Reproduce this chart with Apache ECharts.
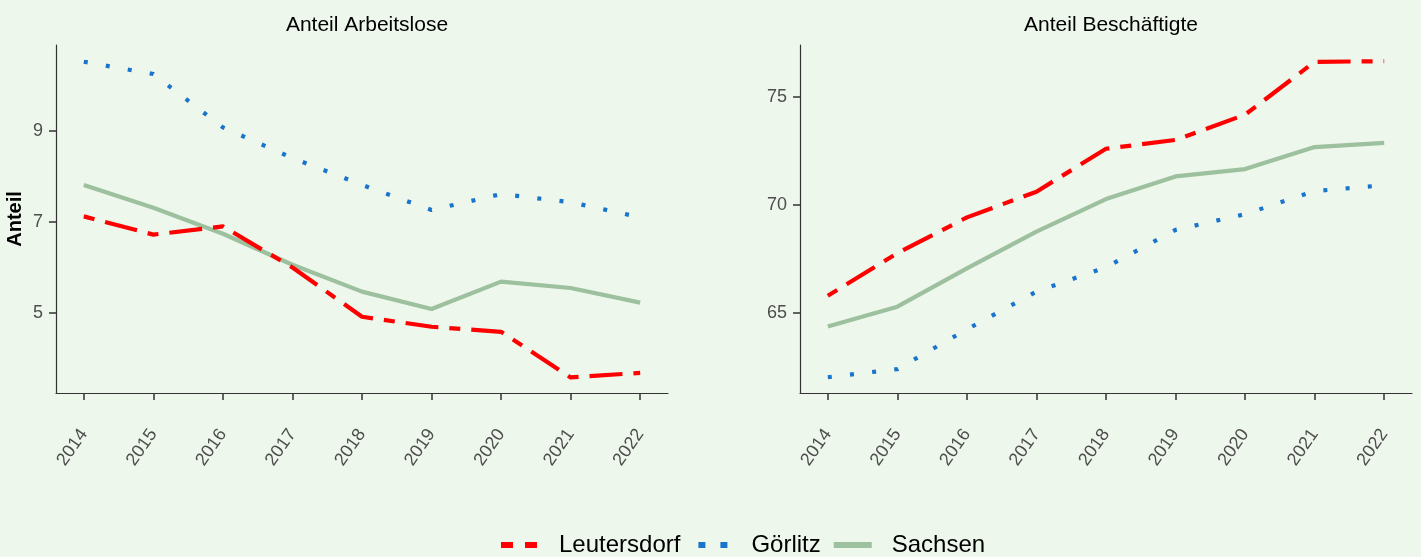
<!DOCTYPE html>
<html>
<head>
<meta charset="utf-8">
<script src="https://cdn.jsdelivr.net/npm/echarts@6/dist/echarts.min.js"></script>
<style>
  html, body { margin: 0; padding: 0; background: #eef7ec; }
  #chart { width: 1421px; height: 557px; }
</style>
</head>
<body>
<div id="chart"></div>
<script>
const years = [2014, 2015, 2016, 2017, 2018, 2019, 2020, 2021, 2022]
const seriesNames = ['Leutersdorf', 'Görlitz', 'Sachsen']

// Anteil Arbeitslose
const alLeutersdorf = [7.12, 6.72, 6.90, 6.00, 4.92, 4.70, 4.59, 3.59, 3.69]
const alGoerlitz = [10.51, 10.24, 9.07, 8.40, 7.81, 7.26, 7.61, 7.43, 7.10]
const alSachsen = [7.81, 7.31, 6.74, 6.06, 5.47, 5.09, 5.69, 5.55, 5.23]

// Anteil Beschäftigte
const bsLeutersdorf = [65.80, 67.77, 69.43, 70.62, 72.61, 73.02, 74.19, 76.64, 76.67]
const bsGoerlitz = [62.02, 62.40, 64.24, 65.99, 67.12, 68.85, 69.58, 70.65, 70.92]
const bsSachsen = [64.37, 65.29, 67.07, 68.77, 70.28, 71.33, 71.67, 72.69, 72.88]

const ticksLeft = [5, 7, 9]
const ticksRight = [65, 70, 75]

const colors = ['#ff0000', '#1874cd', '#9dc09e']
const dashes = [[11, 11, 33, 11], [4, 18.3], 'solid']
const legendDashes = [[12, 12], [7, 15], 'solid']
const legendOffsets = [0, -5, 0]

const pairs = vals => years.map((y, i) => [y, vals[i]])
const font = 'Liberation Sans'

function xAxis(gridIndex) {
  return {
    type: 'value',
    gridIndex,
    min: 2013.6,
    max: 2022.4,
    splitLine: { show: false },
    axisLine: { show: true, lineStyle: { color: '#333', width: 1.2 } },
    axisTick: { show: true, length: 7, customValues: years, lineStyle: { color: '#333', width: 1.5 } },
    axisLabel: {
      customValues: years,
      rotate: 55,
      margin: 38,
      color: '#4d4d4d',
      fontSize: 18,
      fontFamily: font,
      formatter: v => String(v)
    }
  }
}

function yAxis(gridIndex, min, max, ticks, name) {
  return {
    type: 'value',
    gridIndex,
    min,
    max,
    name: name || '',
    nameLocation: 'middle',
    nameGap: 31,
    nameTextStyle: { color: '#000', fontSize: 20, fontWeight: 'bold', fontFamily: font },
    splitLine: { show: false },
    axisLine: { show: true, lineStyle: { color: '#333', width: 1.2 } },
    axisTick: { show: true, length: 7, customValues: ticks, lineStyle: { color: '#333', width: 1.5 } },
    axisLabel: {
      customValues: ticks,
      margin: 13,
      color: '#4d4d4d',
      fontSize: 18,
      fontFamily: font
    }
  }
}

function makeSeries(idx, gridIdx, vals) {
  return {
    name: seriesNames[idx],
    type: 'line',
    xAxisIndex: gridIdx,
    yAxisIndex: gridIdx,
    data: pairs(vals),
    symbol: 'none',
    color: colors[idx],
    lineStyle: { width: 4.2, type: dashes[idx], cap: 'butt', join: 'round', color: colors[idx] },
    z: 3 - idx
  }
}

const chart = echarts.init(document.getElementById('chart'))
chart.setOption({
  backgroundColor: '#eef7ec',
  animation: false,
  title: [
    { text: 'Anteil Arbeitslose', left: 362, top: 10, textAlign: 'center',
      textStyle: { fontSize: 21, fontWeight: 'normal', color: '#000', fontFamily: font } },
    { text: 'Anteil Beschäftigte', left: 1106, top: 10, textAlign: 'center',
      textStyle: { fontSize: 21, fontWeight: 'normal', color: '#000', fontFamily: font } }
  ],
  grid: [
    { left: 56, top: 45, width: 612, height: 348 },
    { left: 800, top: 45, width: 612, height: 348 }
  ],
  legend: {
    data: seriesNames.map((name, i) => ({
      name,
      itemStyle: { opacity: 0 },
      lineStyle: { width: 6, type: legendDashes[i], dashOffset: legendOffsets[i], cap: 'butt', color: colors[i] }
    })),
    top: 533,
    left: 498,
    padding: 0,
    itemWidth: 38,
    itemHeight: 24,
    itemGap: 10,
    textStyle: { fontSize: 24, color: '#000', fontFamily: font, padding: [0, 0, 0, 15] }
  },
  xAxis: [xAxis(0), xAxis(1)],
  yAxis: [
    yAxis(0, 3.248, 10.877, ticksLeft, 'Anteil'),
    yAxis(1, 61.29, 77.42, ticksRight)
  ],
  series: [
    makeSeries(0, 0, alLeutersdorf),
    makeSeries(1, 0, alGoerlitz),
    makeSeries(2, 0, alSachsen),
    makeSeries(0, 1, bsLeutersdorf),
    makeSeries(1, 1, bsGoerlitz),
    makeSeries(2, 1, bsSachsen)
  ]
})
</script>
</body>
</html>
